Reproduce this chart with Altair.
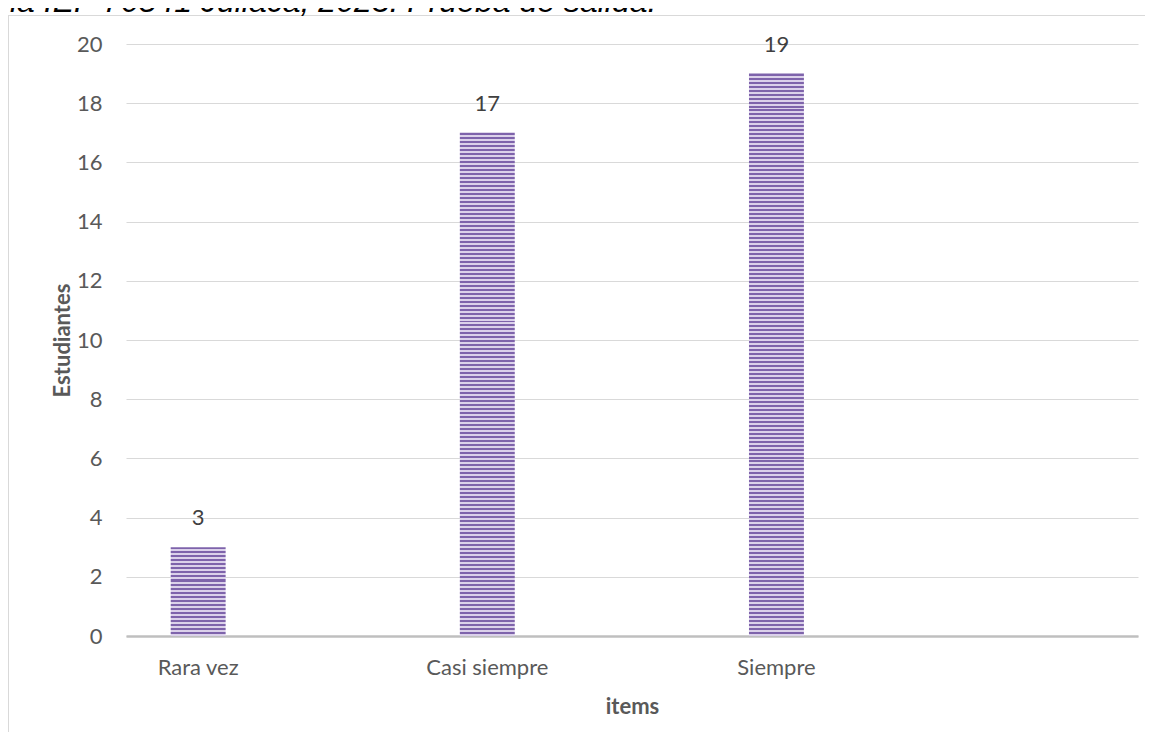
import altair as alt
import pandas as pd

categories = ["Rara vez", "Casi siempre", "Siempre"]
values = [3, 17, 19]
y_ticks = [0, 2, 4, 6, 8, 10, 12, 14, 16, 18, 20]
title_text = "la IEP 70541 Juliaca, 2023. Prueba de salida."
x_title = "items"
y_title = "Estudiantes"

W, H = 1012, 592
YMAX = 20
DARK = "#7e63ab"
LIGHT = "#dbd1ea"
GRID = "#d9d9d9"
TXT = "#595959"

df = pd.DataFrame({"cat": categories, "val": values})
deco = pd.DataFrame({"t": [title_text]})


def stripes(v, period=4.0):
    h = v * H / YMAX
    n = max(1, int(round(h / period)))
    stops = []
    for k in range(n):
        a = k / n
        m = (k + 0.5) / n
        b = (k + 1) / n
        stops += [
            alt.GradientStop(offset=a, color=DARK),
            alt.GradientStop(offset=m, color=DARK),
            alt.GradientStop(offset=m, color=LIGHT),
            alt.GradientStop(offset=b, color=LIGHT),
        ]
    return alt.LinearGradient(gradient="linear", stops=stops, x1=0, x2=0, y1=0, y2=1)


X = alt.X(
    "cat:N",
    sort=categories,
    scale=alt.Scale(domain=categories, paddingInner=0.81, paddingOuter=0.655, align=0.118),
    axis=alt.Axis(
        title=x_title, labelAngle=0, ticks=False, grid=False,
        domainColor="#bfbfbf", domainWidth=2.5,
        labelFont="Lato", labelFontSize=22, labelColor=TXT, labelPadding=21,
        titleFont="Lato", titleFontSize=22, titleFontWeight="bold", titleColor=TXT,
        titleX=506, titleY=70, titleAlign="center", titleBaseline="middle",
    ),
)
Y = alt.Y(
    "val:Q",
    scale=alt.Scale(domain=[0, YMAX], nice=False),
    axis=alt.Axis(
        values=y_ticks, title=y_title, grid=True, gridColor=GRID, gridWidth=1,
        domain=False, ticks=False,
        labelFont="Lato", labelFontSize=22, labelColor=TXT, labelPadding=24,
        titleFont="Lato", titleFontSize=22, titleFontWeight="bold", titleColor=TXT,
        titleX=-64, titleY=H / 2, titleAngle=270, titleAlign="center", titleBaseline="middle",
    ),
)

bar_layers = [
    alt.Chart(df).transform_filter(alt.datum.cat == c).mark_bar(fill=stripes(v)).encode(x=X, y=Y)
    for c, v in zip(categories, values)
]

labels = alt.Chart(df).mark_text(
    dy=-29, baseline="middle", font="Lato", fontSize=22, color="#404040"
).encode(x=X, y=Y, text="val:Q")

border_left = alt.Chart(deco).mark_rule(color=GRID, strokeWidth=1).encode(
    x=alt.value(-117.5), y=alt.value(-29), y2=alt.value(H + 200)
)
border_top = alt.Chart(deco).mark_rule(color=GRID, strokeWidth=1).encode(
    x=alt.value(-118), x2=alt.value(W + 200), y=alt.value(-28.5)
)
title = alt.Chart(deco).mark_text(
    align="left", baseline="alphabetic", font="Liberation Sans", fontStyle="italic",
    fontSize=32, color="#000000"
).encode(x=alt.value(-116), y=alt.value(-32), text="t:N")

chart = alt.layer(border_left, border_top, title, *bar_layers, labels).properties(
    width=W, height=H,
    autosize=alt.AutoSizeParams(type="none"),
    padding={"left": 118, "top": 36, "right": 7, "bottom": 96},
).configure_view(stroke=None)

chart.save("out.html", embed_options={"renderer": "svg", "actions": False})
